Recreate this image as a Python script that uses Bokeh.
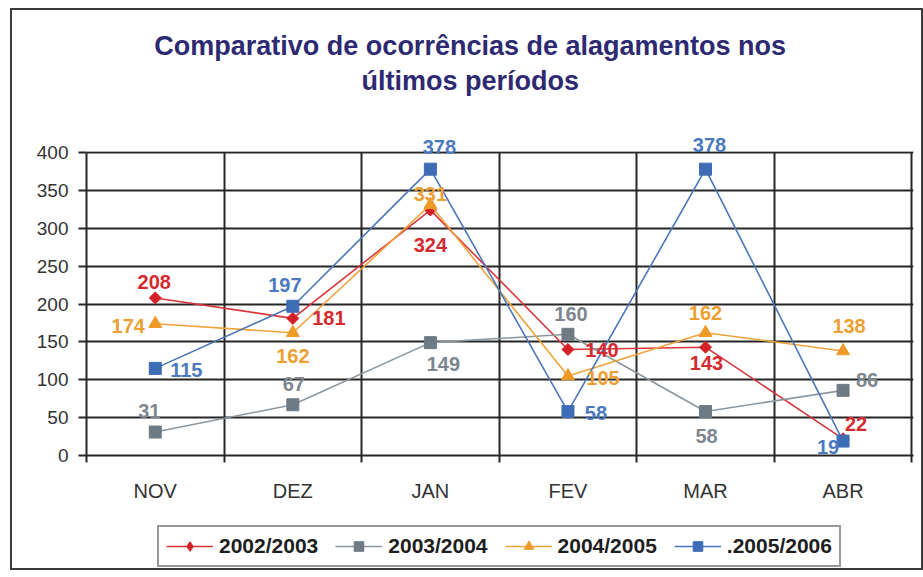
import math
from bokeh.plotting import figure
from bokeh.layouts import column
from bokeh.models import (ColumnDataSource, FixedTicker, Legend, LegendItem,
                          Label, LabelSet, Range1d, BoxAnnotation)
from bokeh.core.properties import value
from bokeh.embed import file_html
from bokeh.resources import INLINE

# ---------------- data ----------------
months = ["NOV", "DEZ", "JAN", "FEV", "MAR", "ABR"]
series_names = ["2002/2003", "2003/2004", "2004/2005", ".2005/2006"]
v_2002_2003 = [208, 181, 324, 140, 143, 22]
v_2003_2004 = [31, 67, 149, 160, 58, 86]
v_2004_2005 = [174, 162, 331, 105, 162, 138]
v_2005_2006 = [115, 197, 378, 58, 378, 19]
y_ticks = [0, 50, 100, 150, 200, 250, 300, 350, 400]
title_lines = ["Comparativo de ocorrências de alagamentos nos", "últimos períodos"]

# ---------------- styling ----------------
line_colors = ["#D8363B", "#8C969E", "#F0A33C", "#4A76BA"]
marker_colors = ["#D42027", "#6E7B85", "#EE9A2A", "#3E6DB5"]
text_colors = ["#D52A30", "#7D868E", "#EE9F33", "#4B79BF"]
markers = ["square", "square", "triangle", "square"]
marker_angles = [math.pi / 4, 0, 0, 0]   # rotated square = diamond
marker_sizes = [8.5, 12, 13, 12]
legend_markers = ["diamond", "square", "triangle", "square"]
legend_marker_sizes = [14, 12, 13, 12]
# label offsets in screen px (dx right, dy up) for each point
label_offsets = [
    [(-1, 16), (36, 0), (0, -35), (34, -1), (1, -16), (13, 15)],
    [(-6, 21), (1, 21), (13, -21), (3, 20), (1, -24), (24, 10)],
    [(-27, -2), (0, -23), (0, 11), (35, -2), (0, 20), (6, 25)],
    [(31, -2), (-8, 21), (9, 22), (28, -1), (4, 24), (-15, -6)],
]
grid_color = "#262626"
border_css = "2px solid #3c3c3c"
font = "Liberation Sans"

W = 913
H_MAIN, H_LEG = 515, 47
TOP_PAD, BOTTOM_PAD = 10, 70
PLOT_PX = 303               # pixels covering 0..400
FRAME_PX = H_MAIN - TOP_PAD - BOTTOM_PAD
y_top = 400 * FRAME_PX / PLOT_PX

all_values = [v_2002_2003, v_2003_2004, v_2004_2005, v_2005_2006]
xs = list(range(len(months)))
boundaries = [i - 0.5 for i in range(len(months) + 1)]

p = figure(width=W, height=H_MAIN,
           x_range=Range1d(-0.5, len(months) - 0.5 + 0.012),
           y_range=Range1d(0, y_top),
           output_backend="svg", toolbar_location=None,
           min_border_left=74, min_border_right=12,
           min_border_top=TOP_PAD, min_border_bottom=BOTTOM_PAD)
p.styles = {"border-top": border_css, "border-left": border_css,
            "border-right": border_css}
p.background_fill_color = "white"
p.border_fill_color = "white"
p.outline_line_color = None
p.title.visible = False

p.xgrid.ticker = FixedTicker(ticks=boundaries)
p.ygrid.ticker = FixedTicker(ticks=y_ticks)
for g in (p.xgrid, p.ygrid):
    g.grid_line_color = grid_color
    g.grid_line_width = 2
try:
    p.xgrid.cross_bounds = (0, 400)
except Exception:
    pass
# mask vertical grid lines above the 400 line
p.add_layout(BoxAnnotation(bottom=401.5, fill_color="white", fill_alpha=1,
                           line_color=None, level="underlay"))

xa = p.xaxis[0]
xa.ticker = FixedTicker(ticks=xs, minor_ticks=boundaries)
xa.major_label_overrides = {i: m for i, m in enumerate(months)}
xa.major_tick_line_color = None
xa.major_tick_out = 0
xa.major_tick_in = 0
xa.minor_tick_out = 7
xa.minor_tick_in = 0
xa.minor_tick_line_color = grid_color
xa.minor_tick_line_width = 2
xa.axis_line_color = grid_color
xa.axis_line_width = 2
xa.major_label_standoff = 17
xa.major_label_text_font = font
xa.major_label_text_font_size = "20px"
xa.major_label_text_color = "#333333"

ya = p.yaxis[0]
ya.bounds = (0, 400)
ya.ticker = FixedTicker(ticks=y_ticks)
ya.major_tick_out = 8
ya.major_tick_in = 0
ya.major_tick_line_color = grid_color
ya.major_tick_line_width = 2
ya.minor_tick_line_color = None
ya.axis_line_color = grid_color
ya.axis_line_width = 2
ya.major_label_standoff = 10
ya.major_label_text_font = font
ya.major_label_text_font_size = "19px"
ya.major_label_text_color = "#333333"

# legend lives in a strip below the chart (its ranges keep the series out of view)
pl = figure(width=W, height=H_LEG, output_backend="svg", toolbar_location=None,
            x_axis_location=None, y_axis_location=None, min_border=0,
            x_range=Range1d(0, 1), y_range=Range1d(-2, -1))
pl.styles = {"border-bottom": border_css, "border-left": border_css,
             "border-right": border_css}
pl.outline_line_color = None
pl.grid.visible = False
pl.title.visible = False
pl.background_fill_color = "white"
pl.border_fill_color = "white"

items = []
for k, vals in enumerate(all_values):
    src = ColumnDataSource(dict(
        x=xs, y=vals, text=[str(v) for v in vals],
        dx=[o[0] for o in label_offsets[k]], dy=[o[1] for o in label_offsets[k]]))
    p.line("x", "y", source=src, line_color=line_colors[k], line_width=1.6)
    p.scatter("x", "y", source=src, marker=markers[k], size=marker_sizes[k],
              angle=marker_angles[k],
              fill_color=marker_colors[k], line_color=marker_colors[k])
    p.add_layout(LabelSet(x="x", y="y", text="text", source=src,
                          x_offset="dx", y_offset="dy",
                          text_font=value(font), text_font_style="bold",
                          text_font_size="20px",
                          text_color=text_colors[k], text_align="center",
                          text_baseline="middle"))
    lr = pl.line("x", "y", source=src, line_color=line_colors[k], line_width=1.6)
    sr = pl.scatter("x", "y", source=src, marker=legend_markers[k],
                    size=legend_marker_sizes[k],
                    fill_color=marker_colors[k], line_color=marker_colors[k])
    items.append(LegendItem(label=series_names[k], renderers=[lr, sr]))

legend = Legend(items=items, orientation="horizontal", location=(71, 3),
                label_text_font=font, label_text_font_style="bold",
                label_text_font_size="21px", label_text_color="#1e1e1e",
                glyph_width=47, glyph_height=24, label_standoff=6, spacing=17,
                padding=7, margin=0, border_line_color="#333333",
                border_line_width=2, background_fill_color="white",
                background_fill_alpha=1)
pl.add_layout(legend)

px_per_unit = PLOT_PX / 400
for text, page_y in zip(title_lines, [45, 80]):
    p.add_layout(Label(x=(len(months) - 1) / 2, y=(455 - page_y) / px_per_unit,
                       x_offset=-29, text=text,
                       text_align="center", text_baseline="middle",
                       text_font=font, text_font_style="bold",
                       text_font_size="27px", text_color="#2E2A72"))

layout = column(p, pl, spacing=0)
layout.styles = {"margin-left": "10px", "margin-top": "8px"}

open("out.html", "w").write(file_html(layout, INLINE))
